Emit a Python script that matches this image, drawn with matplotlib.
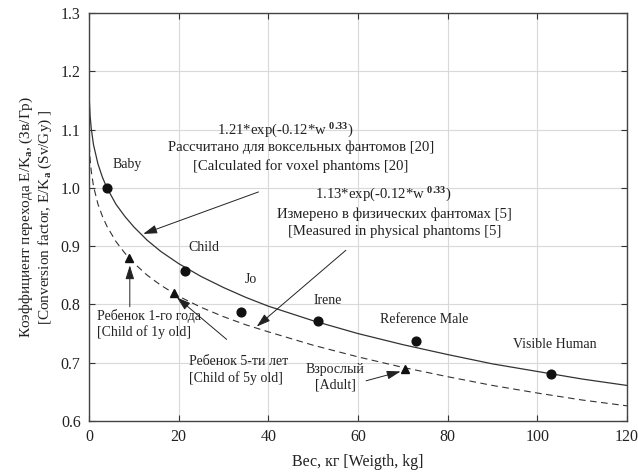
import matplotlib
matplotlib.use("Agg")
import matplotlib.pyplot as plt

plt.rcParams['font.family'] = ['Liberation Serif', 'DejaVu Serif']
plt.rcParams['mathtext.fontset'] = 'custom'
plt.rcParams['mathtext.rm'] = 'Liberation Serif'
plt.rcParams['mathtext.it'] = 'Liberation Serif:italic'
plt.rcParams['mathtext.bf'] = 'Liberation Serif:bold'

# Curves
curve_w = [0, 0.01, 0.05, 0.1, 0.25, 0.5, 1, 2, 3, 4, 6, 8, 10, 13, 16, 20, 25, 30,
           35, 40, 50, 60, 70, 80, 90, 100, 110, 120]
calc_curve = [1.210, 1.180, 1.159, 1.146, 1.123, 1.102, 1.074, 1.041, 1.018, 1.000,
              0.972, 0.951, 0.933, 0.910, 0.891, 0.870, 0.848, 0.829, 0.812, 0.797,
              0.772, 0.750, 0.731, 0.714, 0.698, 0.685, 0.672, 0.661]
meas_curve = [1.130, 1.102, 1.083, 1.070, 1.049, 1.029, 1.003, 0.972, 0.951, 0.934,
              0.908, 0.888, 0.871, 0.850, 0.833, 0.814, 0.795, 0.779, 0.765, 0.753,
              0.730, 0.710, 0.692, 0.676, 0.661, 0.648, 0.636, 0.626]

# Voxel phantoms (circles)
vox_names = ["Baby", "Child", "Jo", "Irene", "Reference Male", "Visible Human"]
vox_w = [4.0, 21.5, 34.0, 51.0, 73.0, 103.0]
vox_f = [1.000, 0.858, 0.787, 0.771, 0.737, 0.680]

# Physical phantoms (triangles)
phys_w = [9.0, 19.0, 70.5]
phys_f = [0.880, 0.820, 0.690]

fig = plt.figure(figsize=(6.38, 4.74), dpi=100)
ax = fig.add_axes([0.1395, 0.1118, 0.8433, 0.8608])

ax.plot(curve_w, calc_curve, color='#333333', lw=0.9, solid_capstyle='butt')
ax.plot(curve_w, meas_curve, color='#333333', lw=0.8, dashes=(6, 4))
ax.plot(vox_w, vox_f, 'o', color='#111111', ms=6.3, ls='none')
ax.plot(phys_w, phys_f, '^', color='#111111', ms=5.5, ls='none')

ax.set_xlim(0, 120)
ax.set_ylim(0.6, 1.3)
ax.set_xticks([0, 20, 40, 60, 80, 100, 120])
ax.set_yticks([0.6, 0.7, 0.8, 0.9, 1.0, 1.1, 1.2, 1.3])
ax.set_yticklabels(["0.6", "0.7", "0.8", "0.9", "1.0", "1.1", "1.2", "1.3"])
ax.grid(True, color='#d9d9d9', lw=0.8)
ax.set_axisbelow(True)
ax.tick_params(direction='in', top=True, right=True, labelsize=11.5, length=4,
               width=0.8, colors='#333333', labelcolor='#222222', pad=6)
for s in ax.spines.values():
    s.set_color('#444444')
    s.set_linewidth(1.0)

ax.set_xlabel("Вес, кг [Weigth, kg]", fontsize=11.5, color='#222222', labelpad=6)
ax.set_ylabel("Коэффициент перехода E/K$_\\mathbf{a}$, (Зв/Гр)\n"
              "[Conversion factor, E/K$_\\mathbf{a}$ (Sv/Gy) ]",
              fontsize=11, color='#222222', labelpad=5, linespacing=1.15)

tc = '#222222'
fs = 10
fb = 10.6
offsets = [(5.3, 1.040), (22.1, 0.898), (34.8, 0.842), (50.0, 0.806),
           (64.9, 0.774), (94.6, 0.731)]
for name, (tx, ty) in zip(vox_names, offsets):
    ax.text(tx, ty, name, fontsize=fs, color=tc, ha='left', va='center')

ax.text(43.7, 1.098, "1.21*exp(-0.12*w $^{\\mathbf{0.33}}$)", fontsize=fb, color=tc,
        ha='center', va='center')
ax.text(47.3, 1.069, "Рассчитано для воксельных фантомов [20]", fontsize=fb,
        color=tc, ha='center', va='center')
ax.text(47.3, 1.038, "[Calculated for voxel phantoms [20]", fontsize=fb,
        color=tc, ha='center', va='center')

ax.text(65.6, 0.988, "1.13*exp(-0.12*w $^{\\mathbf{0.33}}$)", fontsize=fb, color=tc,
        ha='center', va='center')
ax.text(68.2, 0.955, "Измерено в физических фантомах [5]", fontsize=fb,
        color=tc, ha='center', va='center')
ax.text(68.2, 0.925, "[Measured in physical phantoms [5]", fontsize=fb,
        color=tc, ha='center', va='center')

ax.text(1.7, 0.781, "Ребенок 1-го года", fontsize=fs, color=tc, ha='left', va='center')
ax.text(1.7, 0.753, "[Child of 1y old]", fontsize=fs, color=tc, ha='left', va='center')
ax.text(22.4, 0.702, "Ребенок 5-ти лет", fontsize=fs, color=tc, ha='left', va='center')
ax.text(22.4, 0.674, "[Child of 5y old]", fontsize=fs, color=tc, ha='left', va='center')
ax.text(54.9, 0.688, "Взрослый", fontsize=fs, color=tc, ha='center', va='center')
ax.text(54.9, 0.662, "[Adult]", fontsize=fs, color=tc, ha='center', va='center')

aprops = dict(arrowstyle='-|>,head_length=0.7,head_width=0.22', lw=0.7,
              color='#222222', mutation_scale=12, shrinkA=0, shrinkB=0)
ax.annotate("", xy=(12.1, 0.921), xytext=(37.8, 0.993), arrowprops=aprops)
ax.annotate("", xy=(37.4, 0.762), xytext=(57.3, 0.893), arrowprops=aprops)
ax.annotate("", xy=(9.1, 0.867), xytext=(9.1, 0.796), arrowprops=aprops)
ax.annotate("", xy=(19.6, 0.812), xytext=(30.7, 0.740), arrowprops=aprops)
ax.annotate("", xy=(69.5, 0.685), xytext=(61.8, 0.669), arrowprops=aprops)

fig.savefig("out.png", dpi=100)
